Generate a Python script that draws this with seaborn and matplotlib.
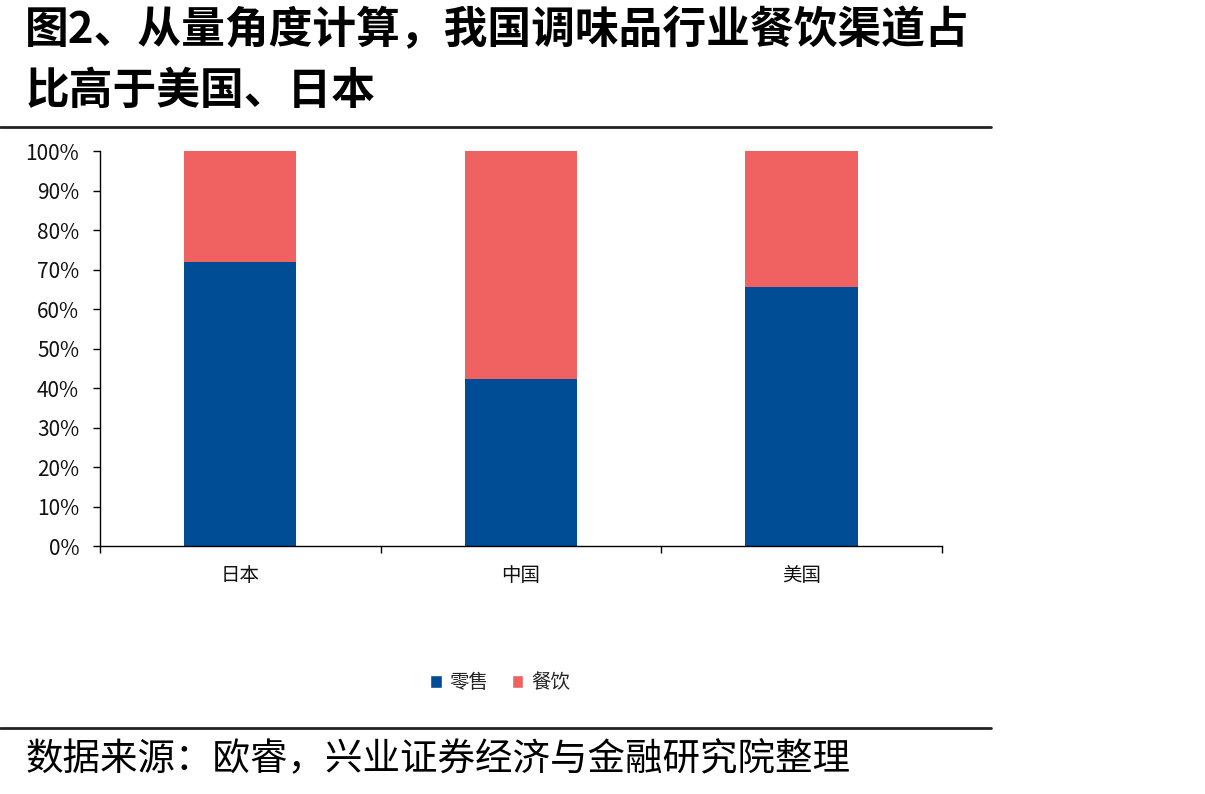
import matplotlib
matplotlib.use("Agg")
import matplotlib.pyplot as plt
import seaborn as sns
import pandas as pd
from matplotlib.lines import Line2D
from matplotlib.patches import Patch
from matplotlib.ticker import FuncFormatter

# data
countries = ["日本", "中国", "美国"]
retail = [72.0, 42.2, 65.5]      # 零售
catering = [28.0, 57.8, 34.5]    # 餐饮

BLUE = "#004D96"
RED = "#F06162"

sns.set_theme(style="white")
plt.rcParams["font.family"] = ["Noto Sans CJK SC", "DejaVu Sans"]

df = pd.DataFrame({"country": countries, "retail": retail, "catering": catering})
df["total"] = df["retail"] + df["catering"]

fig = plt.figure(figsize=(12.05, 7.94), dpi=100)
ax = fig.add_axes([0.083, 0.3123, 0.6987, 0.4975])

# stacked: draw total (red) then retail (blue) on top
sns.barplot(data=df, x="country", y="total", color=RED, width=0.4,
            saturation=1, ax=ax, linewidth=0)
sns.barplot(data=df, x="country", y="retail", color=BLUE, width=0.4,
            saturation=1, ax=ax, linewidth=0)

ax.set_xlim(-0.5, 2.5)
ax.set_ylim(0, 100)
ax.set_yticks(range(0, 101, 10))
ax.yaxis.set_major_formatter(FuncFormatter(lambda v, p: f"{int(v)}%"))
ax.set_xlabel("")
ax.set_ylabel("")

for s in ["top", "right"]:
    ax.spines[s].set_visible(False)
for s in ["left", "bottom"]:
    ax.spines[s].set_color("black")
    ax.spines[s].set_linewidth(1.0)

ax.tick_params(axis="y", which="major", direction="out", length=5, width=1,
               color="black", labelsize=15, pad=10, left=True)
ax.tick_params(axis="x", which="major", length=0, labelsize=14, pad=14)
ax.set_xticks([-0.5, 0.5, 1.5, 2.5], minor=True)
ax.tick_params(axis="x", which="minor", direction="out", length=5, width=1,
               color="black", bottom=True)
for lab in ax.get_yticklabels() + ax.get_xticklabels():
    lab.set_fontweight("light")
    lab.set_color("#111111")

handles = [Patch(facecolor=BLUE, label="零售"), Patch(facecolor=RED, label="餐饮")]
fig.legend(handles=handles, loc="center", bbox_to_anchor=(0.415, 0.14), ncol=2,
           frameon=False, fontsize=14, handlelength=0.6, handleheight=0.6,
           handletextpad=0.4, columnspacing=1.2)

fig.text(0.021, 0.99, "图2、从量角度计算，我国调味品行业餐饮渠道占\n比高于美国、日本",
         fontsize=31.5, fontweight="bold", va="top", ha="left", linespacing=1.5,
         color="black")
fig.add_artist(Line2D([0, 0.822], [1 - 127 / 794] * 2, color="#222222", lw=2,
                      transform=fig.transFigure))
fig.add_artist(Line2D([0, 0.822], [1 - 728 / 794] * 2, color="#222222", lw=2,
                      transform=fig.transFigure))
fig.text(0.021, 1 - 760 / 794, "数据来源：欧睿，兴业证券经济与金融研究院整理",
         fontsize=27, va="center", ha="left", color="black")

fig.savefig("out.png", dpi=100)
